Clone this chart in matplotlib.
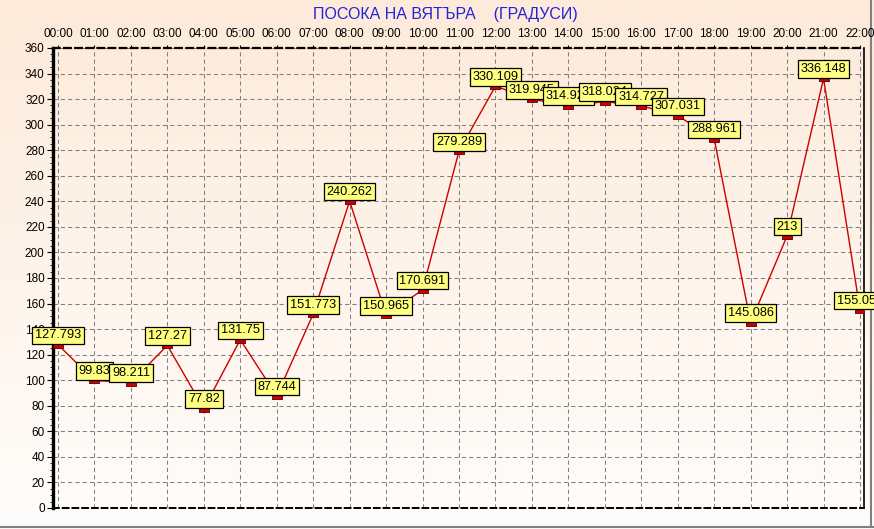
import numpy as np
import matplotlib
matplotlib.use("Agg")
import matplotlib.pyplot as plt
from matplotlib.ticker import MultipleLocator

plt.rcParams['font.family'] = ['Liberation Sans', 'DejaVu Sans']

hours = ["00:00", "01:00", "02:00", "03:00", "04:00", "05:00", "06:00", "07:00",
         "08:00", "09:00", "10:00", "11:00", "12:00", "13:00", "14:00", "15:00",
         "16:00", "17:00", "18:00", "19:00", "20:00", "21:00", "22:00"]
direction = [127.793, 99.83, 98.211, 127.27, 77.82, 131.75, 87.744, 151.773,
             240.262, 150.965, 170.691, 279.289, 330.109, 319.945, 314.925,
             318.024, 314.727, 307.031, 288.961, 145.086, 213, 336.148, 155.059]
title = "ПОСОКА НА ВЯТЪРА    (ГРАДУСИ)"

W, H = 874, 529
fig = plt.figure(figsize=(W / 100, H / 100), dpi=100)

# gradient background
bg = fig.add_axes([0, 0, 1, 1], zorder=-10)
top = np.array([253, 234, 218]) / 255
bot = np.array([255, 253, 251]) / 255
t = np.linspace(0, 1, 256)[:, None]
grad = top[None, :] * (1 - t) + bot[None, :] * t
bg.imshow(grad[:, None, :], aspect='auto', extent=[0, 1, 0, 1])
bg.set_axis_off()
bg.plot([0, 1], [1 - 527 / H, 1 - 527 / H], color='#808080', lw=1.5)
bg.plot([871 / W, 871 / W], [1 - 527 / H, 1], color='#808080', lw=1.5)
bg.set_xlim(0, 1)
bg.set_ylim(0, 1)

L, R, T, B = 53, 864, 48, 508
ax = fig.add_axes([L / W, 1 - B / H, (R - L) / W, (B - T) / H])
ax.set_facecolor('none')

x = np.arange(len(hours))
ax.plot(x, direction, color='#cc0000', lw=1.0, zorder=3)
rect = [(-1, -0.55), (1, -0.55), (1, 0.55), (-1, 0.55), (-1, -0.55)]
ax.plot(x, direction, linestyle='none', marker=rect, markersize=6.8,
        markerfacecolor='#cc0000', markeredgecolor='#550000',
        markeredgewidth=0.6, zorder=4)

for i, v in enumerate(direction):
    ax.annotate('%g' % v, (x[i], v), xytext=(0, 2.4), textcoords='offset points',
                ha='center', va='bottom', fontsize=9.2, color='black',
                bbox=dict(boxstyle='square,pad=0.22', fc='#ffff80', ec='black', lw=0.9),
                annotation_clip=False, clip_on=False, zorder=5 + i)

ax.set_xlim(-0.137, 22.11)
ax.set_ylim(0, 360)
ax.set_xticks(x)
ax.set_xticklabels(hours)
ax.xaxis.tick_top()
ax.tick_params(axis='x', top=True, bottom=False, length=2.5, width=0.8,
               labelsize=8.5, pad=3, direction='out')
ax.yaxis.set_major_locator(MultipleLocator(20))
ax.yaxis.set_minor_locator(MultipleLocator(5))
ax.tick_params(axis='y', which='major', length=4, width=0.8, labelsize=8.5, pad=2)
ax.tick_params(axis='y', which='minor', length=2, width=0.6)

ax.grid(True, which='major', color='#808080', linestyle=(0, (4, 3)), lw=0.75)
ax.set_axisbelow(True)

ax.spines['left'].set_linewidth(2.4)
ax.spines['right'].set_linewidth(1.2)
ax.spines['top'].set_linewidth(1.6)
ax.spines['top'].set_linestyle((0, (3, 2)))
ax.spines['bottom'].set_linewidth(1.4)
ax.spines['bottom'].set_linestyle((0, (3, 2)))

fig.text(445 / W, 1 - 14 / H, title, ha='center', va='center', fontsize=11.5,
         color='#2424d8')

fig.savefig('out.png', dpi=100)
